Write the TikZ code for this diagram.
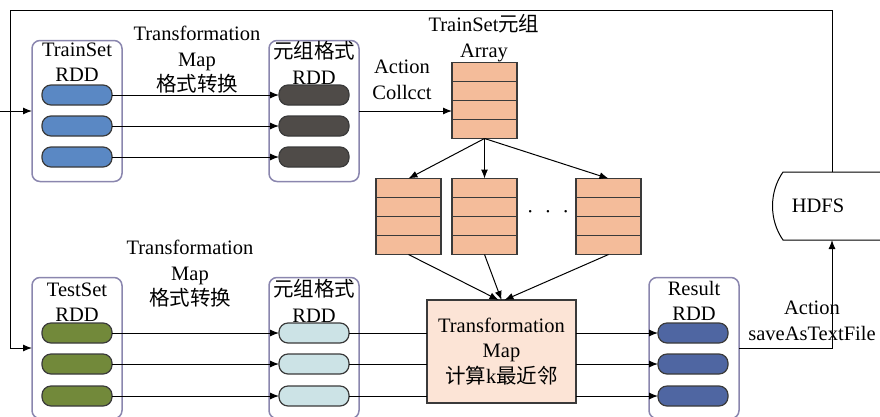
\documentclass[tikz,border=0pt]{standalone}
\usepackage{fontspec}
\setmainfont{Liberation Serif}
\newfontfamily\cjk{Noto Sans CJK SC}
\usepackage{xcolor}
\usetikzlibrary{positioning,calc,arrows.meta}

\definecolor{rddline}{HTML}{8A86AE}
\definecolor{partline}{HTML}{3A3A3A}
\definecolor{trainblue}{HTML}{5A88C4}
\definecolor{tupgray}{HTML}{4F4B48}
\definecolor{testgreen}{HTML}{72893A}
\definecolor{tuplight}{HTML}{CCE3E6}
\definecolor{resblue}{HTML}{4F66A2}
\definecolor{arrfill}{HTML}{F4BC9A}
\definecolor{knnfill}{HTML}{FCE4D6}

\begin{document}
\begin{tikzpicture}[x=1pt,y=-1pt,every node/.style={outer sep=0pt},
    line width=1pt,>={Latex[length=9pt,width=7pt]},
    font=\fontsize{20.5}{25.5}\selectfont,
    rdd/.style={draw=rddline,line width=1.5pt,rounded corners=8pt,
    minimum width=90pt,minimum height=141pt},
    part/.style={draw=partline,line width=1.2pt,rounded corners=9pt,
    minimum width=70pt,minimum height=20pt},
    arr/.style={draw=partline,fill=arrfill,line width=1.2pt,
    minimum width=65pt,minimum height=76pt},
    lbl/.style={align=center,inner sep=0pt}]
   \useasboundingbox (0,0) rectangle (880,416);

   % RDD containers
   \node[rdd] (trainc) at (77,111) {};
   \node[rdd] (tupc) at (314,111) {};
   \node[rdd] (testc) at (77,348) {};
   \node[rdd] (tupc2) at (314,348) {};
   \node[rdd] (resc) at (694,348) {};

   \node[lbl] (trainlbl) at (77,62) {TrainSet\\RDD};
   \node[lbl] (tuplbl) at (314,63) {{\cjk 元组格式}\\RDD};
   \node[lbl] (testlbl) at (77,302) {TestSet\\RDD};
   \node[lbl] (tuplbl2) at (314,301) {{\cjk 元组格式}\\RDD};
   \node[lbl] (reslbl) at (694,301) {Result\\RDD};

   % partitions
   \foreach \c/\x/\f in {tr/77/trainblue,tu/314/tupgray}
     \foreach \n/\y in {1/95,2/126,3/157}
       \node[part,fill=\f] (\c\n) at (\x,\y) {};
   \foreach \c/\x/\f in {te/77/testgreen,tl/314/tuplight,rs/693/resblue}
     \foreach \n/\y in {1/333,2/364,3/396}
       \node[part,fill=\f] (\c\n) at (\x,\y) {};

   % arrays of tuples
   \node[arr] (a0) at (484.5,100.5) {};
   \node[arr] (a1) at (408.5,216.5) {};
   \node[arr] (a2) at (484.5,216.5) {};
   \node[arr] (a3) at (608.5,216.5) {};
   \foreach \A in {a0,a1,a2,a3}
     \foreach \k in {1,2,3}
       \draw[partline,line width=1.2pt] ($(\A.north west)!\k/4!(\A.south west)$)
         -- ($(\A.north east)!\k/4!(\A.south east)$);
   \node (dots) at (548,214) {·\hspace{11pt}·\hspace{11pt}·};
   \node[lbl] (arrlbl) at (484,38) {TrainSet{\cjk 元组}\\Array};

   % k nearest neighbours
   \node[draw=partline,fill=knnfill,line width=1.5pt,minimum width=149pt,
     minimum height=103pt,align=center] (knn) at (501.5,351.5)
     {Transformation\\Map\\{\cjk 计算}k{\cjk 最近邻}};

   % HDFS store
   \node[minimum width=98pt,minimum height=68pt] (hdfs) at (832,206) {};
   \node (hdfslbl) at (818,206) {HDFS};
   \draw (hdfs.north east) -- (hdfs.north west)
     .. controls ($(hdfs.west)+(-14,-14)$) and ($(hdfs.west)+(-14,14)$) .. (hdfs.south west)
     -- (hdfs.south east);

   % labels on the edges
   \node[lbl] (map1) at (197,60) {Transformation\\Map\\{\cjk 格式转换}};
   \node[lbl] (map2) at (190,274) {Transformation\\Map\\{\cjk 格式转换}};
   \node[lbl] (collect) at (402,80) {Action\\Collcct};
   \node[lbl] (save) at (812,321) {Action\\saveAsTextFile};

   % connectors
   \coordinate (bus) at (10,10);
   \draw[->] (hdfs.north) |- (bus) |- (testc.west);
   \draw[<-] (trainc.west) -- ++(-32,0);
   \foreach \n in {1,2,3}
   {
     \draw[->] (tr\n.east) -- (tu\n.west);
     \draw[->] (te\n.east) -- (tl\n.west);
     \draw (tl\n.east) -- (knn.west|-tl\n);
     \draw[->] (knn.east|-rs\n) -- (rs\n.west);
   }
   \draw[->] (tupc.east) -- (tupc.east-|a0.west);
   \foreach \A in {a1,a2,a3}
     \draw[->] (a0.south) -- (\A.north);
   \draw[->] (a1.south) -- ([xshift=-3pt]knn.north);
   \draw[->] (a2.south) -- (knn.north);
   \draw[->] (a3.south) -- ([xshift=3pt]knn.north);
   \draw[->] (resc.east) -| (hdfs.south);
\end{tikzpicture}
\end{document}
